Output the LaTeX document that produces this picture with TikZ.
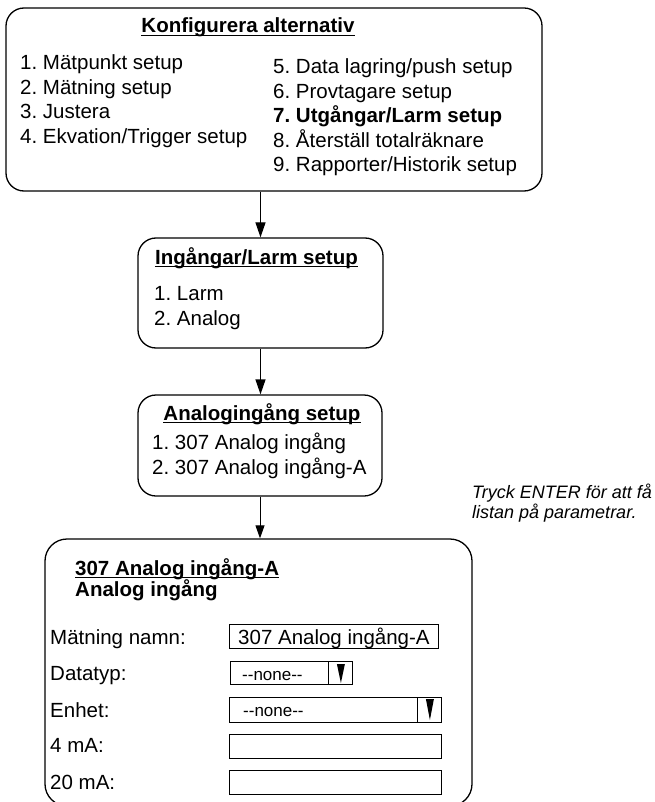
\documentclass[tikz,border=0pt]{standalone}
\usepackage{fontspec}
\setmainfont{Liberation Sans}
\usetikzlibrary{arrows.meta}
\frenchspacing

\tikzset{
  menubox/.style={draw, line width=1.3pt, rounded corners=18pt, inner sep=0pt},
  entry/.style={anchor=base west, inner sep=0pt, font=\fontsize{20.5}{24.5}\selectfont},
  heading/.style={entry, font=\fontsize{20.5}{24.5}\selectfont\bfseries},
  small/.style={entry, font=\fontsize{17}{19}\selectfont},
  note/.style={entry, font=\fontsize{18}{20}\selectfont\itshape},
  field/.style={draw, line width=0.9pt, inner sep=0pt, anchor=north west},
  uline/.style={line width=1.2pt},
  flow/.style={line width=1.3pt, -{Triangle[length=15pt,width=10pt]}},
}

\begin{document}
\begin{tikzpicture}[x=1pt, y=-1pt]
\useasboundingbox (0,0) rectangle (654,802);
\clip (0,0) rectangle (654,802);

% the four menu levels
\node[menubox, minimum width=536pt, minimum height=183pt] (konf) at (274, 99.5) {};
\node[menubox, minimum width=245pt, minimum height=110pt] (inp) at (260.5, 293) {};
\node[menubox, minimum width=244pt, minimum height=101pt] (ana) at (260, 445.5) {};
\node[menubox, rounded corners=22pt, minimum width=427pt, minimum height=267pt] (param) at (258.5, 672.5) {};

% main menu
\node[heading, anchor=base] (konfT) at (248, 33) {Konfigurera alternativ};
\draw[uline] ([yshift=-2.5pt]konfT.base west) -- ([yshift=-2.5pt]konfT.base east);
\foreach \t [count=\i] in {1. Mätpunkt setup, 2. Mätning setup, 3. Justera, 4. Ekvation/Trigger setup}
  \node[entry] (m\i) at (20, {45.5+24.5*\i}) {\t};
\foreach \t [count=\i from 5] in {5. Data lagring/push setup, 6. Provtagare setup,
    {\bfseries 7. Utgångar/Larm setup}, 8. Återställ totalräknare, 9. Rapporter/Historik setup}
  \node[entry] (m\i) at (273, {24.5*\i-48.5}) {\t};

% inputs / alarms
\node[heading, anchor=base] (inpT) at (256.5, 264) {Ingångar/Larm setup};
\draw[uline] ([yshift=-2.5pt]inpT.base west) -- ([yshift=-2.5pt]inpT.base east);
\node[entry] (inp1) at (154, 300) {1. Larm};
\node[entry] (inp2) at (154, 325) {2. Analog};

% analog inputs
\node[heading, anchor=base] (anaT) at (262, 420) {Analogingång setup};
\draw[uline] ([yshift=-2.5pt]anaT.base west) -- ([yshift=-2.5pt]anaT.base east);
\node[entry] (ana1) at (152, 449) {1. 307 Analog ingång};
\node[entry] (ana2) at (152, 474) {2. 307 Analog ingång-A};

% parameter page
\node[heading] (paramT) at (75, 575) {307 Analog ingång-A};
\draw[uline] ([yshift=-2.5pt]paramT.base west) -- ([yshift=-2.5pt]paramT.base east);
\node[heading] (paramS) at (75, 596) {Analog ingång};

\foreach \t/\y [count=\i] in {Mätning namn:/644, Datatyp:/680, Enhet:/717, 4 mA:/752, 20 mA:/789}
  \node[entry] (lab\i) at (50, \y) {\t};

\node[field, minimum width=209pt, minimum height=24pt] (namn) at (229, 624) {};
\node[entry] (namnV) at (238, 644) {307 Analog ingång-A};

\node[field, minimum width=122pt, minimum height=23pt] (typ) at (230, 661) {};
\node[small] (typV) at (242, 680) {-{}-none-{}-};
\draw[line width=0.9pt] ([xshift=-24pt]typ.north east) -- ([xshift=-24pt]typ.south east);
\fill ([xshift=-16pt,yshift=-3pt]typ.north east) -- ++(8pt,0) -- ++(-4pt,-19pt) -- cycle;

\node[field, minimum width=212pt, minimum height=25pt] (enh) at (229, 697) {};
\node[small] (enhV) at (243, 716) {-{}-none-{}-};
\draw[line width=0.9pt] ([xshift=-24pt]enh.north east) -- ([xshift=-24pt]enh.south east);
\fill ([xshift=-16pt,yshift=-2pt]enh.north east) -- ++(8pt,0) -- ++(-4pt,-21pt) -- cycle;

\node[field, minimum width=212pt, minimum height=24pt] (ma4) at (229, 734) {};
\node[field, minimum width=212pt, minimum height=24pt] (ma20) at (229, 770) {};

% hint beside the parameter page
\node[note] (hint1) at (472, 498) {Tryck ENTER för att få};
\node[note] (hint2) at (472, 518) {listan på parametrar.};

% menu flow
\draw[flow] (konf.south -| inp.north) -- (inp.north);
\draw[flow] (inp.south) -- (inp.south |- ana.north);
\draw[line width=1pt, -{Triangle[length=13pt,width=9pt]}] (ana.south) -- (ana.south |- param.north);
\end{tikzpicture}
\end{document}
